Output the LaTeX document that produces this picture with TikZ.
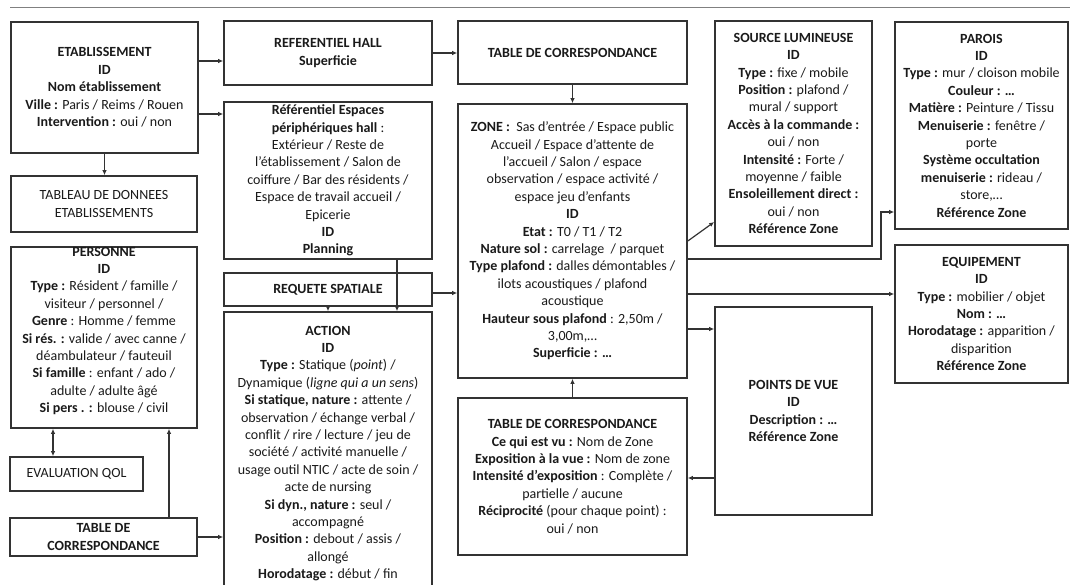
\documentclass[tikz,border=0pt]{standalone}
\usepackage{fontspec}
\setmainfont{Carlito}
\usetikzlibrary{arrows.meta}
\definecolor{edge}{HTML}{333333}
\definecolor{ink}{HTML}{1A1A1A}
\begin{document}
\begin{tikzpicture}[x=1pt,y=-1pt,
  box/.style={draw=edge,line width=1.6pt,rectangle,inner sep=0pt,align=center,text=ink,
    font=\fontsize{14}{17.4}\selectfont},
  txt/.style={inner sep=0pt,align=center,text=ink,font=\fontsize{14}{17.4}\selectfont},
  arr/.style={draw=edge,line width=1.2pt,-{Latex[length=5pt,width=4.5pt]}},
  dbl/.style={draw=edge,line width=1.2pt,{Latex[length=5pt,width=4.5pt]}-{Latex[length=5pt,width=4.5pt]}}]
\useasboundingbox (0,0) rectangle (1070,584);
\fill[white] (0,0) rectangle (1070,584);
\draw[gray,line width=0.8pt] (10,7) -- (1070,7);

% left column
\node[box,minimum width=187pt,minimum height=131pt] (etab) at (104.5,87.5)
 {\textbf{ETABLISSEMENT}\\ \textbf{ID}\\ \textbf{Nom établissement}\\ \textbf{Ville :} Paris / Reims / Rouen\\ \textbf{Intervention :} oui / non};
\node[box,minimum width=186pt,minimum height=56pt] (tabdon) at (104,204)
 {TABLEAU DE DONNEES\\ ETABLISSEMENTS};
\node[box,minimum width=186pt,minimum height=181pt] (pers) at (104,337.5) {};
\node[txt] (perstxt) at (104,331)
 {\textbf{PERSONNE}\\ \textbf{ID}\\ \textbf{Type :} Résident / famille /\\ visiteur / personnel /\\ \textbf{Genre} : Homme / femme\\ \textbf{Si rés. :} valide / avec canne /\\ déambulateur / fauteuil\\ \textbf{Si famille} : enfant / ado /\\ adulte / adulte âgé\\ \textbf{Si pers . :} blouse / civil};
\node[box,minimum width=133pt,minimum height=34pt] (evalq) at (76.5,474) {EVALUATION QOL};
\node[box,minimum width=187pt,minimum height=38pt] (tcleft) at (103.5,537)
 {\textbf{TABLE DE}\\ \textbf{CORRESPONDANCE}};

% second column
\node[box,minimum width=208pt,minimum height=64pt] (refhall) at (328,53)
 {\textbf{REFERENTIEL HALL}\\ \textbf{Superficie}};
\node[box,minimum width=208pt,minimum height=157pt] (refesp) at (328,180.5)
 {\textbf{Référentiel Espaces}\\ \textbf{périphériques hall} :\\ Extérieur / Reste de\\ l’établissement / Salon de\\ coiffure / Bar des résidents /\\ Espace de travail accueil /\\ Epicerie\\ \textbf{ID}\\ \textbf{Planning}};
\node[box,minimum width=208pt,minimum height=33pt] (requete) at (328,289.5)
 {\textbf{REQUETE SPATIALE}};
\node[box,minimum width=208pt,minimum height=288pt] (action) at (328,456) {};
\node[txt] (actiontxt) at (328,453.5)
 {\textbf{ACTION}\\ \textbf{ID}\\ \textbf{Type :} Statique (\textit{point}) /\\ Dynamique (\textit{ligne qui a un sens})\\ \textbf{Si statique, nature :} attente /\\ observation / échange verbal /\\ conflit / rire / lecture / jeu de\\ société / activité manuelle /\\ usage outil NTIC / acte de soin /\\ acte de nursing\\ \textbf{Si dyn., nature :} seul /\\ accompagné\\ \textbf{Position :} debout / assis /\\ allongé\\ \textbf{Horodatage :} début / fin};

% third column
\node[box,minimum width=229pt,minimum height=63pt] (tctop) at (572.5,52.5)
 {\textbf{TABLE DE CORRESPONDANCE}};
\node[box,minimum width=229pt,minimum height=274pt] (zone) at (572.5,241)
 {\textbf{ZONE :}\ \ Sas d’entrée / Espace public\\ Accueil / Espace d’attente de\\ l’accueil / Salon / espace\\ observation / espace activité /\\ espace jeu d’enfants\\ \textbf{ID}\\ \textbf{Etat :} T0 / T1 / T2\\ \textbf{Nature sol :} carrelage\ \ / parquet\\ \textbf{Type plafond :} dalles démontables /\\ ilots acoustiques / plafond\\ acoustique\\ \textbf{Hauteur sous plafond} : 2,50m /\\ 3,00m,…\\ \textbf{Superficie : …}};
\node[box,minimum width=229pt,minimum height=157pt] (tcbot) at (572.5,476.5)
 {\textbf{TABLE DE CORRESPONDANCE}\\ \textbf{Ce qui est vu :} Nom de Zone\\ \textbf{Exposition à la vue :} Nom de zone\\ \textbf{Intensité d’exposition} : Complète /\\ partielle / aucune\\ \textbf{Réciprocité} (pour chaque point) :\\ oui / non};

% fourth column
\node[box,minimum width=157pt,minimum height=225pt] (source) at (793.5,133.5)
 {\textbf{SOURCE LUMINEUSE}\\ \textbf{ID}\\ \textbf{Type :} fixe / mobile\\ \textbf{Position :} plafond /\\ mural / support\\ \textbf{Accès à la commande :}\\ oui / non\\ \textbf{Intensité :} Forte /\\ moyenne / faible\\ \textbf{Ensoleillement direct :}\\ oui / non\\ \textbf{Référence Zone}};
\node[box,minimum width=157pt,minimum height=208pt] (points) at (793.5,411)
 {\textbf{POINTS DE VUE}\\ \textbf{ID}\\ \textbf{Description : …}\\ \textbf{Référence Zone}};

% fifth column
\node[box,minimum width=173pt,minimum height=207pt] (parois) at (981.5,125.5)
 {\textbf{PAROIS}\\ \textbf{ID}\\ \textbf{Type :} mur / cloison mobile\\ \textbf{Couleur : …}\\ \textbf{Matière :} Peinture / Tissu\\ \textbf{Menuiserie :} fenêtre /\\ porte\\ \textbf{Système occultation}\\ \textbf{menuiserie :} rideau /\\ store,…\\ \textbf{Référence Zone}};
\node[box,minimum width=173pt,minimum height=138pt] (equip) at (981.5,314)
 {\textbf{EQUIPEMENT}\\ \textbf{ID}\\ \textbf{Type :} mobilier / objet\\ \textbf{Nom : …}\\ \textbf{Horodatage :} apparition /\\ disparition\\ \textbf{Référence Zone}};

% connectors
\draw[arr] (etab.east |- 0,61) -- (refhall.west |- 0,61);
\draw[arr] (etab.east |- 0,114) -- (refesp.west |- 0,114);
\draw[arr] (etab.south) -- (tabdon.north -| etab.south);
\draw[dbl] (pers.south -| 53,0) -- (evalq.north -| 53,0);
\draw[arr] (tcleft.north -| 169,0) -- (pers.south -| 169,0);
\draw[arr] (tcleft.east) -- (action.west |- tcleft.east);
\draw[arr] (refesp.south -| 397,0) -- (action.north -| 397,0);
\draw[arr] (requete.south) -- (action.north);
\draw[arr] (requete.east |- 0,293) -- (zone.west |- 0,293);
\draw[arr] (refhall.east) -- (tctop.west |- refhall.east);
\draw[arr] (tctop.south) -- (zone.north);
\draw[arr] (tcbot.north) -- (zone.south);
\draw[arr] (zone.east |- 0,241) -- (source.west |- 0,222);
\coordinate (bend) at (881,235);
\draw[arr] (zone.east |- 0,259) -| (bend) |- (parois.west |- 0,212);
\draw[arr] (zone.east |- 0,294) -- (equip.west |- 0,294);
\draw[arr] (zone.east |- 0,329) -- (points.west |- 0,329);
\draw[arr] (points.west |- 0,478) -- (tcbot.east |- 0,478);
\end{tikzpicture}
\end{document}
